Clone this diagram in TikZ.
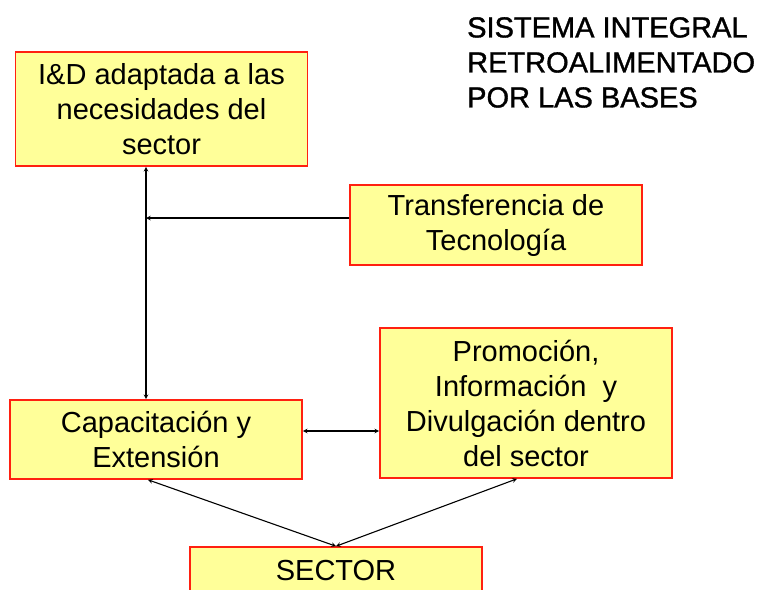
\documentclass[tikz,border=0pt]{standalone}
\usepackage{fontspec}
\setmainfont{Liberation Sans}
\newfontfamily\titfont[FakeBold=1.2]{Liberation Sans}
\usetikzlibrary{positioning}
\definecolor{boxfill}{HTML}{FFFF99}
\definecolor{boxline}{HTML}{FF2010}
\tikzset{
  caja/.style={draw=boxline, line width=1.6pt, fill=boxfill, minimum width=292, align=center, inner sep=0pt,
    font=\fontsize{29}{35}\selectfont},
  flecha/.style={line width=1.1pt},
}
\begin{document}
\begin{tikzpicture}[>=stealth, x=1pt, y=-1pt]
\useasboundingbox (0,0) rectangle (762,589);
\node[caja, minimum height=114](id) at (161.5,109){I\&D adaptada a las\\necesidades del\\sector};
\node[caja, minimum height=80](tt) at (496,225){Transferencia de\\Tecnolog\'ia};
\node[caja, minimum height=150](prom) at (526,403){Promoci\'on,\\Informaci\'on\ \ y\\Divulgaci\'on dentro\\del sector};
\node[caja, minimum height=79](cap) at (156,439.5){Capacitaci\'on y\\Extensi\'on};
\node[caja, minimum height=48](sec) at (336,571){SECTOR};
\node[anchor=north west, align=left, inner sep=0pt, font=\titfont\fontsize{29}{35}\selectfont](tit) at (467,17){SISTEMA INTEGRAL\\RETROALIMENTADO\\POR LAS BASES};
% conexiones
\coordinate (vx) at (146,0);
\coordinate (hy) at (0,431);
\coordinate (ty) at (0,218);
\draw[flecha, <->](id.south -| vx)--(cap.north -| vx);
\draw[flecha, ->](tt.west |- ty)--(vx |- ty);
\draw[flecha, <->](cap.east |- hy)--(prom.west |- hy);
\draw[flecha, <->]([xshift=-8]cap.south)--(sec.north);
\draw[flecha, <->]([xshift=-9]prom.south)--(sec.north);
\end{tikzpicture}
\end{document}
